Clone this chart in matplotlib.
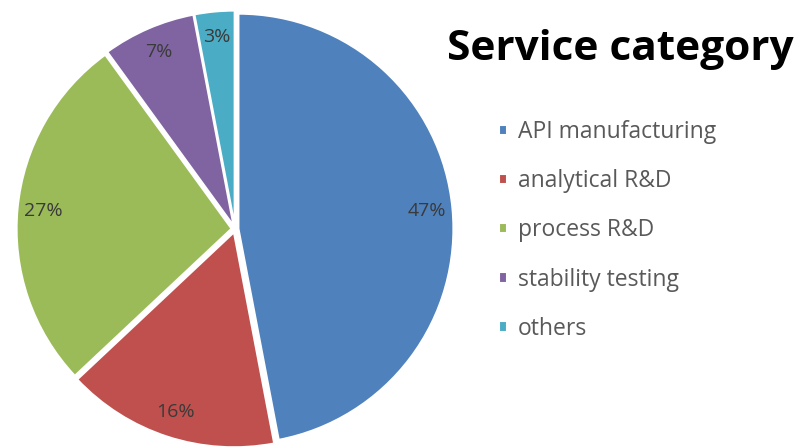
import matplotlib.pyplot as plt

labels = ["API manufacturing", "analytical R&D", "process R&D", "stability testing", "others"]
shares = [47, 16, 27, 7, 3]
colors = ["#4F81BD", "#C0504D", "#9BBB59", "#8064A2", "#4BACC6"]

plt.rcParams['font.family'] = ['Open Sans', 'DejaVu Sans']

fig = plt.figure(figsize=(8.02, 4.48), dpi=100)
# pie centre ~ (235, 228) px, radius ~215 px
ax = fig.add_axes([20 / 802, 4 / 448, 430 / 802, 430 / 448])

wedges, texts, autotexts = ax.pie(
    shares, colors=colors, startangle=90, counterclock=False,
    explode=[0.016] * len(shares), autopct='%d%%', pctdistance=0.88,
    wedgeprops=dict(edgecolor='white', linewidth=1.5),
    textprops=dict(fontsize=14, color='#3a3a3a'))
ax.set_xlim(-1, 1)
ax.set_ylim(-1, 1)
ax.set_aspect('equal')

fig.text(620 / 802, 1 - 50 / 448, "Service category", ha='center', va='center',
         fontsize=30.5, fontweight='bold', color='black')

fig.legend(wedges, labels, loc='upper left', bbox_to_anchor=(499 / 802, 1 - 120 / 448),
           frameon=False, fontsize=16.5, labelcolor='#595959', labelspacing=1.1,
           handlelength=0.33, handleheight=0.33, handletextpad=0.5, borderpad=0,
           borderaxespad=0)

fig.savefig("out.png", dpi=100)
